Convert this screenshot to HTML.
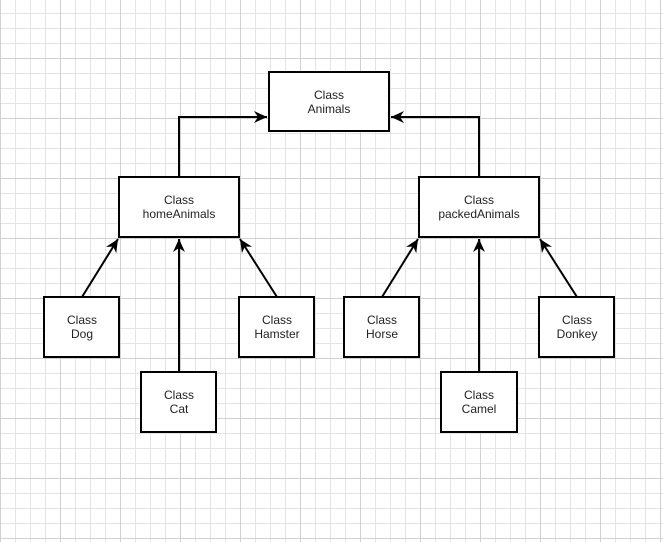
<!DOCTYPE html>
<html><head><style>
html,body{margin:0;padding:0;}
body{width:663px;height:542px;overflow:hidden;background-color:#fff;
background-image:
linear-gradient(to right,#d0d0d0 1px,transparent 1px),
linear-gradient(to bottom,#d0d0d0 1px,transparent 1px),
linear-gradient(to right,#e4e4e4 1px,transparent 1px),
linear-gradient(to bottom,#e4e4e4 1px,transparent 1px);
background-size:60px 60px,60px 60px,15px 15px,15px 15px;
background-position:0px 58px,0px 58px,0px 13px,0px 13px;}
svg{display:block;position:absolute;left:0;top:0}
text{font-family:"Liberation Sans",sans-serif;font-size:12px;fill:#222}
</style></head><body>
<svg width="663" height="542" viewBox="0 0 663 542" xmlns="http://www.w3.org/2000/svg">
<defs>
<marker id="a" markerWidth="14" markerHeight="14" refX="13" refY="7" orient="auto" markerUnits="userSpaceOnUse">
<path d="M0,1 L13,7 L0,13 L4,7 Z" fill="#000"/>
</marker>
</defs>
<g fill="none" stroke="#000" stroke-width="2">
<path d="M179 177V117H267" marker-end="url(#a)"/>
<path d="M479 177V117H391" marker-end="url(#a)"/>
<path d="M82 297L118 239" marker-end="url(#a)"/>
<path d="M179 372V239" marker-end="url(#a)"/>
<path d="M277 297L240 239" marker-end="url(#a)"/>
<path d="M382 297L418 239" marker-end="url(#a)"/>
<path d="M479 372V239" marker-end="url(#a)"/>
<path d="M577 297L540 239" marker-end="url(#a)"/>
</g>
<g fill="#fff" stroke="#000" stroke-width="2">
<rect x="269" y="72" width="120" height="59"/>
<rect x="119" y="177" width="120" height="60"/>
<rect x="419" y="177" width="120" height="60"/>
<rect x="44" y="297" width="75" height="60"/>
<rect x="141" y="372" width="75" height="60"/>
<rect x="239" y="297" width="75" height="60"/>
<rect x="344" y="297" width="75" height="60"/>
<rect x="441" y="372" width="76" height="60"/>
<rect x="539" y="297" width="75" height="60"/>
</g>
<g text-anchor="middle">
<text x="329" y="99">Class</text><text x="329" y="113">Animals</text>
<text x="179" y="204">Class</text><text x="179" y="218">homeAnimals</text>
<text x="479" y="204">Class</text><text x="479" y="218">packedAnimals</text>
<text x="82" y="324">Class</text><text x="82" y="338">Dog</text>
<text x="179" y="399">Class</text><text x="179" y="413">Cat</text>
<text x="277" y="324">Class</text><text x="277" y="338">Hamster</text>
<text x="382" y="324">Class</text><text x="382" y="338">Horse</text>
<text x="479" y="399">Class</text><text x="479" y="413">Camel</text>
<text x="577" y="324">Class</text><text x="577" y="338">Donkey</text>
</g>
</svg>
</body></html>
